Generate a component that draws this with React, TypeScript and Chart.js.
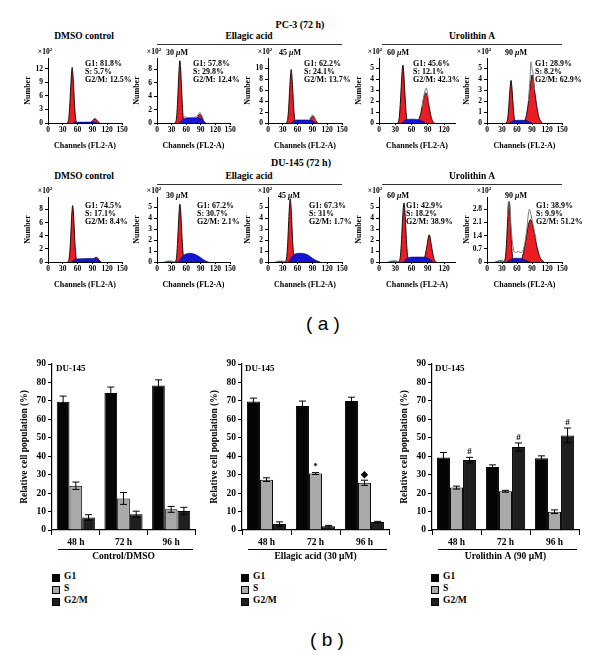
import React, { useEffect, useRef } from 'react';
import { Chart, registerables } from 'chart.js';
Chart.register(...registerables);

type Pt = [number, number];

// ---------- Histogram data: [channel FL2-A, count ×10²] ----------
// PC-3 (72 h)
const pc3DmsoG1: Pt[] = [[39, 0], [42, 1.0], [44, 3.7], [46, 8.0], [47.5, 10.8], [49, 12.3], [50.5, 10.8], [52, 8.0], [54, 3.7], [56, 1.0], [59, 0]];
const pc3DmsoS: Pt[] = [[50, 0], [55, 0.15], [70, 0.2], [85, 0.2], [95, 0.15], [100, 0]];
const pc3DmsoG2: Pt[] = [[85, 0], [89, 0.35], [92, 0.75], [95, 0.95], [98, 0.75], [101, 0.35], [105, 0]];

const pc3Ea30G1: Pt[] = [[37, 0], [40, 0.7], [42, 2.8], [44, 6.0], [45.5, 8.2], [47, 9.3], [48.5, 8.2], [50, 6.0], [52, 2.8], [54, 0.7], [57, 0]];
const pc3Ea30S: Pt[] = [[46, 0], [52, 0.5], [60, 0.75], [75, 0.8], [88, 0.7], [95, 0.4], [100, 0]];
const pc3Ea30G2: Pt[] = [[77, 0], [81, 0.3], [84, 0.9], [88, 1.3], [92, 0.9], [95, 0.3], [99, 0]];
const pc3Ea30Data: Pt[] = [[54, 1.0], [58, 0.9], [64, 0.8], [72, 0.85], [79, 0.9], [84, 1.2], [88, 1.6], [92, 1.1], [96, 0.5]];

const pc3Ea45G1: Pt[] = [[37, 0], [40, 0.8], [42, 2.9], [44, 6.4], [45.5, 8.6], [47, 9.8], [48.5, 8.6], [50, 6.4], [52, 2.9], [54, 0.8], [57, 0]];
const pc3Ea45S: Pt[] = [[47, 0], [52, 0.4], [60, 0.55], [80, 0.55], [90, 0.4], [96, 0]];
const pc3Ea45G2: Pt[] = [[81, 0], [85, 0.4], [88, 1], [91, 1.2], [94, 1], [97, 0.4], [101, 0]];
const pc3Ea45Data: Pt[] = [[84, 0.7], [88, 1.3], [91, 1.5], [94, 1.1], [97, 0.4]];

const pc3Ua60G1: Pt[] = [[34, 0], [37, 0.4], [39, 1.6], [41, 3.4], [42.5, 4.7], [44, 5.3], [45.5, 4.7], [47, 3.4], [49, 1.6], [51, 0.4], [54, 0]];
const pc3Ua60S: Pt[] = [[42, 0], [48, 0.25], [60, 0.35], [72, 0.3], [80, 0.15], [85, 0]];
const pc3Ua60G2: Pt[] = [[68, 0], [73, 0.3], [77, 0.9], [80, 1.7], [83, 2.4], [86, 2.75], [89, 2.4], [92, 1.6], [95, 0.8], [98, 0.25], [102, 0]];
const pc3Ua60Data: Pt[] = [[79, 1.4], [82, 2.3], [85, 3.0], [87, 3.2], [89, 2.8], [92, 1.8]];

const pc3Ua90G1: Pt[] = [[38, 0], [41, 0.3], [43, 1.2], [45, 2.5], [46.5, 3.4], [48, 3.9], [49.5, 3.4], [51, 2.5], [53, 1.2], [55, 0.3], [58, 0]];
const pc3Ua90S: Pt[] = [[45, 0], [52, 0.2], [65, 0.25], [80, 0.2], [88, 0]];
const pc3Ua90G2: Pt[] = [[72, 0], [77, 0.4], [81, 1.3], [84, 2.4], [87, 3.6], [90, 4.4], [93, 3.8], [96, 2.7], [100, 1.4], [104, 0.5], [110, 0]];
const pc3Ua90Data: Pt[] = [[83, 2.0], [86, 4.0], [88, 5.6], [90, 5.0], [92, 4.6], [95, 3.0]];

// DU-145 (72 h)
const duDmsoG1: Pt[] = [[40, 0], [43, 0.6], [45, 2.4], [47, 5.5], [48.5, 7.6], [50, 8.6], [51.5, 7.6], [53, 5.5], [55, 2.4], [57, 0.6], [60, 0]];
const duDmsoS: Pt[] = [[48, 0], [55, 0.4], [70, 0.5], [90, 0.55], [100, 0.4], [108, 0]];
const duDmsoG2: Pt[] = [[88, 0], [92, 0.4], [96, 0.7], [99, 0.7], [103, 0.35], [107, 0]];

const duEa30G1: Pt[] = [[37, 0], [40, 0.4], [42, 1.6], [44, 3.4], [45.5, 4.7], [47, 5.3], [48.5, 4.8], [50, 3.6], [52, 1.8], [54, 0.6], [58, 0]];
const duEa30S: Pt[] = [[44, 0], [50, 0.4], [58, 0.7], [67, 0.8], [78, 0.7], [90, 0.4], [100, 0.1], [106, 0]];
const duEa30Debris: Pt[] = [[14, 0], [20, 0.08], [28, 0.1], [36, 0]];

const duEa45G1: Pt[] = [[35, 0], [38, 0.5], [40, 1.8], [42, 3.8], [43.5, 5.1], [45, 5.8], [46.5, 5.2], [48, 3.9], [50, 1.9], [52, 0.6], [56, 0]];
const duEa45S: Pt[] = [[42, 0], [48, 0.45], [56, 0.75], [65, 0.8], [78, 0.7], [90, 0.35], [100, 0.1], [106, 0]];
const duEa45Debris: Pt[] = [[14, 0], [20, 0.08], [28, 0.1], [36, 0]];

const duUa60G1: Pt[] = [[36, 0], [39, 0.4], [41, 1.6], [43, 3.5], [44.5, 4.8], [46, 5.4], [47.5, 4.8], [49, 3.5], [51, 1.6], [53, 0.4], [56, 0]];
const duUa60S: Pt[] = [[45, 0], [52, 0.35], [65, 0.45], [80, 0.45], [92, 0.3], [100, 0]];
const duUa60G2: Pt[] = [[80, 0], [84, 0.4], [87, 1.1], [89, 1.7], [91, 2.3], [92.5, 2.5], [94, 2.3], [96, 1.7], [99, 0.8], [102, 0.2], [106, 0]];
const duUa60Debris: Pt[] = [[16, 0], [22, 0.1], [30, 0.12], [38, 0]];

const duUa90G1: Pt[] = [[34, 0], [37, 0.3], [39, 1.0], [41, 2.1], [42.5, 2.9], [44, 3.2], [45.5, 2.9], [47, 2.1], [49, 1.0], [51, 0.3], [54, 0]];
const duUa90S: Pt[] = [[40, 0], [48, 0.15], [60, 0.2], [72, 0.15], [85, 0]];
const duUa90G2: Pt[] = [[66, 0], [71, 0.3], [76, 0.9], [80, 1.6], [84, 2.1], [87, 2.25], [91, 2.0], [95, 1.5], [100, 0.8], [106, 0.25], [114, 0]];
const duUa90Data: Pt[] = [[41, 2.4], [43, 3.2], [45, 3.2], [48, 1.9], [52, 0.8], [57, 0.5], [62, 0.55], [68, 0.5], [74, 0.8], [79, 1.6], [83, 2.6], [85, 2.8], [88, 2.5], [92, 2.0], [98, 1.2]];
const duUa90Debris: Pt[] = [[16, 0], [22, 0.06], [30, 0.08], [36, 0]];

// ---------- Bar chart data ----------
const timeLabels = ['48 h', '72 h', '96 h'];
const phaseNames = ['G1', 'S', 'G2/M'];

const dmsoG1 = [69.5, 74.3, 78.4];
const dmsoG1Err = [3.1, 3.2, 3.0];
const dmsoS = [24.0, 17.1, 11.2];
const dmsoSErr = [2.0, 3.2, 1.6];
const dmsoG2M = [6.8, 8.6, 10.3];
const dmsoG2MErr = [1.5, 1.6, 2.0];

const eaG1 = [69.7, 67.2, 70.0];
const eaG1Err = [1.8, 2.7, 2.0];
const eaS = [27.3, 30.6, 25.6];
const eaSErr = [1.0, 0.5, 1.4];
const eaG2M = [3.2, 2.1, 4.3];
const eaG2MErr = [1.2, 0.4, 0.4];
const eaSMarks = ['', '*', '\u25C6'];

const uaG1 = [39.3, 34.2, 38.9];
const uaG1Err = [2.7, 1.1, 1.3];
const uaS = [23.0, 21.0, 9.9];
const uaSErr = [0.8, 0.5, 1.0];
const uaG2M = [37.9, 45.0, 51.3];
const uaG2MErr = [1.5, 2.2, 4.0];
const uaG2MMarks = ['#', '#', '#'];

// ---------- Styling ----------
const SERIF = '"Liberation Serif", "Times New Roman", serif';
const SANS = '"Liberation Sans", Arial, sans-serif';
const WEIGHT = 'bold';
const RED = '#ec1c24';
const BLUE = '#1414d2';
const TEAL = '#1a9c8c';
const C_G1 = '#050505';
const C_S = '#a9a9a9';
const C_G2M = '#1f1f1f';

const fmt = (v: number) => String(Math.round(Number(v) * 10) / 10);

// ---------- Histogram ----------
const Y_W = 25, PAD_T = 12, PAD_R = 10, X_H = 28, H_AREA = 65;

type HistProps = {
  left: number; top: number; width: number; xMax: number; yMax: number; yStep: number;
  g1: Pt[]; s: Pt[]; g2?: Pt[]; outline?: Pt[]; debris?: Pt[];
};

function Histogram(p: HistProps) {
  const ref = useRef<HTMLCanvasElement>(null);
  useEffect(() => {
    const toXY = (a: Pt[]) => a.map(([x, y]) => ({ x, y }));
    const ds: any[] = [];
    if (p.outline) ds.push({ data: toXY(p.outline), borderColor: '#7a7a7a', borderWidth: 1, fill: false });
    ds.push({ data: toXY(p.s), backgroundColor: BLUE, borderColor: '#00005a', borderWidth: 0.6, fill: 'origin' });
    if (p.debris) ds.push({ data: toXY(p.debris), backgroundColor: TEAL, borderColor: '#0a4a40', borderWidth: 0.5, fill: 'origin' });
    ds.push({ data: toXY(p.g1), backgroundColor: RED, borderColor: '#000', borderWidth: 0.9, fill: 'origin' });
    if (p.g2) ds.push({ data: toXY(p.g2), backgroundColor: RED, borderColor: '#000', borderWidth: 0.9, fill: 'origin' });
    const tickFont = { family: SERIF, size: 7.5, weight: WEIGHT };
    const titleFont = { family: SERIF, size: 8, weight: WEIGHT };
    const chart = new Chart(ref.current!, {
      type: 'line',
      data: { datasets: ds.map((d) => ({ pointRadius: 0, cubicInterpolationMode: 'monotone', ...d })) },
      options: {
        responsive: false,
        animation: false,
        layout: { padding: { top: PAD_T, right: PAD_R, left: 0, bottom: 0 } },
        plugins: { legend: { display: false }, tooltip: { enabled: false } },
        scales: {
          x: {
            type: 'linear', min: 0, max: p.xMax, bounds: 'data',
            ticks: { stepSize: 30, autoSkip: false, maxRotation: 0, minRotation: 0, includeBounds: false, font: tickFont, color: '#000', padding: 1 },
            afterBuildTicks: (s: any) => { s.ticks = s.ticks.filter((t: any) => t.value % 30 === 0); },
            grid: { drawOnChartArea: false, tickLength: 2, color: '#000' },
            border: { color: '#000', width: 1 },
            title: { display: true, text: 'Channels (FL2-A)', font: titleFont, color: '#000', padding: { top: 0, bottom: 0 } },
            afterFit: (s: any) => { s.height = X_H; },
          },
          y: {
            type: 'linear', min: 0, max: p.yMax, bounds: 'data',
            ticks: { stepSize: p.yStep, includeBounds: false, font: tickFont, color: '#000', padding: 2, callback: (v: any) => fmt(v) },
            grid: { drawOnChartArea: false, tickLength: 3, color: '#000' },
            border: { color: '#000', width: 1 },
            title: { display: true, text: 'Number', font: titleFont, color: '#000', padding: { top: 0, bottom: 0 } },
            afterFit: (s: any) => { s.width = Y_W; },
          },
        },
      } as any,
    });
    return () => chart.destroy();
  }, []);
  const w = Y_W + p.width + PAD_R;
  const h = PAD_T + H_AREA + X_H;
  return <canvas ref={ref} width={w} height={h} style={{ position: 'absolute', left: p.left - Y_W, top: p.top - PAD_T, width: w, height: h }} />;
}

// ---------- Bar chart ----------
const B_YW = 33, B_PT = 10, B_PR = 10, B_XH = 32, B_TOP = 364, B_H = 166;

const errorPlugin = {
  id: 'errbars',
  afterDatasetsDraw(chart: any) {
    const { ctx } = chart;
    const ys = chart.scales.y;
    chart.data.datasets.forEach((ds: any, i: number) => {
      const meta = chart.getDatasetMeta(i);
      meta.data.forEach((bar: any, j: number) => {
        const v = ds.data[j];
        const e = ds.errors[j];
        const yt = ys.getPixelForValue(v + e);
        const yb = ys.getPixelForValue(v - e);
        const x = bar.x;
        ctx.save();
        ctx.strokeStyle = '#000';
        ctx.lineWidth = 1;
        ctx.beginPath();
        ctx.moveTo(x, yt); ctx.lineTo(x, yb);
        ctx.moveTo(x - 3.5, yt); ctx.lineTo(x + 3.5, yt);
        ctx.moveTo(x - 3.5, yb); ctx.lineTo(x + 3.5, yb);
        ctx.stroke();
        if (ds.marks && ds.marks[j]) {
          ctx.fillStyle = '#000';
          ctx.font = `bold 9px ${SERIF}`;
          ctx.textAlign = 'center';
          ctx.textBaseline = 'bottom';
          ctx.fillText(ds.marks[j], x, yt - 1);
        }
        ctx.restore();
      });
    });
  },
};

const underlinePlugin = {
  id: 'underline',
  afterDraw(chart: any) {
    const { ctx, chartArea } = chart;
    const xs = chart.scales.x;
    const y = Math.round(xs.top + 19) + 0.5;
    ctx.save();
    ctx.strokeStyle = '#000';
    ctx.lineWidth = 1;
    ctx.beginPath();
    ctx.moveTo(chartArea.left + 6, y);
    ctx.lineTo(chartArea.right - 2, y);
    ctx.stroke();
    ctx.restore();
  },
};

type BarProps = {
  axisX: number; width: number; title: string;
  g1: number[]; g1Err: number[]; s: number[]; sErr: number[]; g2m: number[]; g2mErr: number[];
  sMarks?: string[]; g2mMarks?: string[];
};

function BarPanel(p: BarProps) {
  const ref = useRef<HTMLCanvasElement>(null);
  useEffect(() => {
    const font = { family: SERIF, size: 9.5, weight: WEIGHT };
    const common = { borderColor: '#000', borderWidth: 1, categoryPercentage: 0.8, barPercentage: 1.0 };
    const chart = new Chart(ref.current!, {
      type: 'bar',
      data: {
        labels: timeLabels,
        datasets: [
          { label: phaseNames[0], data: p.g1, errors: p.g1Err, backgroundColor: C_G1, ...common },
          { label: phaseNames[1], data: p.s, errors: p.sErr, marks: p.sMarks, backgroundColor: C_S, ...common },
          { label: phaseNames[2], data: p.g2m, errors: p.g2mErr, marks: p.g2mMarks, backgroundColor: C_G2M, ...common },
        ] as any,
      },
      options: {
        responsive: false,
        animation: false,
        layout: { padding: { top: B_PT, right: B_PR, left: 0, bottom: 0 } },
        plugins: { legend: { display: false }, tooltip: { enabled: false } },
        scales: {
          x: {
            type: 'category', offset: true,
            ticks: { font, color: '#000', padding: 2, maxRotation: 0 },
            grid: { drawOnChartArea: false, tickLength: 5, color: '#000', offset: true },
            border: { color: '#000', width: 1.2 },
            title: { display: true, text: p.title, font, color: '#000', padding: { top: 0, bottom: 0 } },
            afterFit: (s: any) => { s.height = B_XH; },
          },
          y: {
            min: 0, max: 90,
            ticks: { stepSize: 10, font, color: '#000', padding: 2 },
            grid: { drawOnChartArea: false, tickLength: 4, color: '#000' },
            border: { color: '#000', width: 1.2 },
            title: { display: true, text: 'Relative cell population (%)', font, color: '#000', padding: { top: 0, bottom: 0 } },
            afterFit: (s: any) => { s.width = B_YW; },
          },
        },
      } as any,
      plugins: [errorPlugin, underlinePlugin],
    });
    return () => chart.destroy();
  }, []);
  const w = B_YW + p.width + B_PR;
  const h = B_PT + B_H + B_XH;
  return <canvas ref={ref} width={w} height={h} style={{ position: 'absolute', left: p.axisX - B_YW, top: B_TOP - B_PT, width: w, height: h }} />;
}

// ---------- Text helpers ----------
function T(props: { x: number; y: number; size?: number; align?: 'left' | 'center' | 'right'; family?: string; weight?: string; children: any }) {
  const { x, y, size = 8, align = 'left', family = SERIF, weight = WEIGHT, children } = props;
  const tr = align === 'center' ? 'translate(-50%,-50%)' : align === 'right' ? 'translate(-100%,-50%)' : 'translateY(-50%)';
  return (
    <div style={{ position: 'absolute', left: x, top: y, transform: tr, fontSize: size, fontFamily: family, fontWeight: weight as any, whiteSpace: 'nowrap', lineHeight: 1, color: '#000' }}>
      {children}
    </div>
  );
}

function HLine(props: { x1: number; x2: number; y: number }) {
  return <div style={{ position: 'absolute', left: props.x1, top: props.y, width: props.x2 - props.x1, height: 1.3, background: '#333' }} />;
}

function Stats(props: { x: number; y: number; lines: string[] }) {
  return (
    <>
      {props.lines.map((l, i) => (
        <T key={i} x={props.x} y={props.y + i * 8} size={8}>{l}</T>
      ))}
    </>
  );
}

function Conc(props: { x: number; y: number; v: string }) {
  return <T x={props.x} y={props.y} size={8}>{props.v} <i>μ</i>M</T>;
}

function X10(props: { x: number; y: number }) {
  return <T x={props.x} y={props.y} size={7.5} align="center">×10<sup style={{ fontSize: 5, verticalAlign: 'top', position: 'relative', top: -1 }}>2</sup></T>;
}

function Legend(props: { x: number }) {
  const colors = [C_G1, C_S, C_G2M];
  const ys = [577, 589, 601];
  return (
    <>
      {phaseNames.map((n, i) => (
        <React.Fragment key={n}>
          <div style={{ position: 'absolute', left: props.x, top: ys[i] - 3.5, width: 6, height: 6, background: colors[i], border: '0.8px solid #000' }} />
          <T x={props.x + 12} y={ys[i]} size={9.5}>{n}</T>
        </React.Fragment>
      ))}
    </>
  );
}

export default function App() {
  const TOP1 = 58, TOP2 = 197;
  return (
    <div style={{ position: 'absolute', left: 0, top: 0, width: 600, height: 655, background: '#fff', overflow: 'hidden' }}>
      {/* Panel (a) headers */}
      <T x={300} y={25} size={10} align="center">PC-3 (72 h)</T>
      <T x={84} y={37} size={9.5} align="center">DMSO control</T>
      <T x={249} y={37} size={9.5} align="center">Ellagic acid</T>
      <HLine x1={157} x2={342} y={44} />
      <T x={472} y={37} size={9.5} align="center">Urolithin A</T>
      <HLine x1={382} x2={562} y={44} />

      <Histogram left={48} top={TOP1} width={74} xMax={150} yMax={14.4} yStep={3} g1={pc3DmsoG1} s={pc3DmsoS} g2={pc3DmsoG2} />
      <Histogram left={157} top={TOP1} width={73} xMax={150} yMax={9.7} yStep={2} g1={pc3Ea30G1} s={pc3Ea30S} g2={pc3Ea30G2} outline={pc3Ea30Data} />
      <Histogram left={268} top={TOP1} width={74} xMax={150} yMax={11.9} yStep={2} g1={pc3Ea45G1} s={pc3Ea45S} g2={pc3Ea45G2} outline={pc3Ea45Data} />
      <Histogram left={379} top={TOP1} width={76} xMax={140} yMax={5.95} yStep={1} g1={pc3Ua60G1} s={pc3Ua60S} g2={pc3Ua60G2} outline={pc3Ua60Data} />
      <Histogram left={487} top={TOP1} width={75} xMax={150} yMax={5.95} yStep={1} g1={pc3Ua90G1} s={pc3Ua90S} g2={pc3Ua90G2} outline={pc3Ua90Data} />

      <X10 x={45} y={52} />
      <X10 x={154} y={52} />
      <X10 x={265} y={52} />
      <X10 x={375} y={52} />
      <X10 x={484} y={52} />

      <Stats x={85} y={64} lines={['G1: 81.8%', 'S: 5.7%', 'G2/M: 12.5%']} />
      <Conc x={166} y={53} v="30" />
      <Stats x={193} y={64} lines={['G1: 57.8%', 'S: 29.8%', 'G2/M: 12.4%']} />
      <Conc x={279} y={53} v="45" />
      <Stats x={304} y={64} lines={['G1: 62.2%', 'S: 24.1%', 'G2/M: 13.7%']} />
      <Conc x={387} y={53} v="60" />
      <Stats x={413} y={64} lines={['G1: 45.6%', 'S: 12.1%', 'G2/M: 42.3%']} />
      <Conc x={505} y={53} v="90" />
      <Stats x={535} y={64} lines={['G1: 28.9%', 'S: 8.2%', 'G2/M: 62.9%']} />

      <T x={301} y={163} size={10} align="center">DU-145 (72 h)</T>
      <T x={84} y={177} size={9.5} align="center">DMSO control</T>
      <T x={249} y={177} size={9.5} align="center">Ellagic acid</T>
      <HLine x1={157} x2={342} y={184} />
      <T x={472} y={177} size={9.5} align="center">Urolithin A</T>
      <HLine x1={382} x2={562} y={184} />

      <Histogram left={48} top={TOP2} width={74} xMax={150} yMax={9.9} yStep={2} g1={duDmsoG1} s={duDmsoS} g2={duDmsoG2} />
      <Histogram left={157} top={TOP2} width={73} xMax={150} yMax={5.95} yStep={1} g1={duEa30G1} s={duEa30S} debris={duEa30Debris} />
      <Histogram left={268} top={TOP2} width={74} xMax={150} yMax={5.95} yStep={1} g1={duEa45G1} s={duEa45S} debris={duEa45Debris} />
      <Histogram left={379} top={TOP2} width={76} xMax={140} yMax={5.95} yStep={1} g1={duUa60G1} s={duUa60S} g2={duUa60G2} debris={duUa60Debris} />
      <Histogram left={487} top={TOP2} width={75} xMax={150} yMax={3.45} yStep={0.7} g1={duUa90G1} s={duUa90S} g2={duUa90G2} outline={duUa90Data} debris={duUa90Debris} />

      <X10 x={45} y={191} />
      <X10 x={154} y={191} />
      <X10 x={265} y={191} />
      <X10 x={375} y={191} />
      <X10 x={484} y={191} />

      <Stats x={85} y={206} lines={['G1: 74.5%', 'S: 17.1%', 'G2/M: 8.4%']} />
      <Conc x={166} y={196} v="30" />
      <Stats x={197} y={206} lines={['G1: 67.2%', 'S: 30.7%', 'G2/M: 2.1%']} />
      <Conc x={278} y={196} v="45" />
      <Stats x={309} y={206} lines={['G1: 67.3%', 'S: 31%', 'G2/M: 1.7%']} />
      <Conc x={387} y={196} v="60" />
      <Stats x={406} y={206} lines={['G1: 42.9%', 'S: 18.2%', 'G2/M: 38.9%']} />
      <Conc x={505} y={196} v="90" />
      <Stats x={536} y={206} lines={['G1: 38.9%', 'S: 9.9%', 'G2/M: 51.2%']} />

      <T x={323} y={323} size={19} align="center" family={SANS} weight="normal">( a )</T>

      {/* Panel (b) */}
      <BarPanel axisX={52} width={143} title="Control/DMSO" g1={dmsoG1} g1Err={dmsoG1Err} s={dmsoS} sErr={dmsoSErr} g2m={dmsoG2M} g2mErr={dmsoG2MErr} />
      <BarPanel axisX={242} width={147} title="Ellagic acid (30 μM)" g1={eaG1} g1Err={eaG1Err} s={eaS} sErr={eaSErr} g2m={eaG2M} g2mErr={eaG2MErr} sMarks={eaSMarks} />
      <BarPanel axisX={432} width={147} title="Urolithin A (90 μM)" g1={uaG1} g1Err={uaG1Err} s={uaS} sErr={uaSErr} g2m={uaG2M} g2mErr={uaG2MErr} g2mMarks={uaG2MMarks} />

      <T x={56} y={368} size={9}>DU-145</T>
      <T x={245} y={368} size={9}>DU-145</T>
      <T x={435} y={368} size={9}>DU-145</T>

      <Legend x={52} />
      <Legend x={241} />
      <Legend x={431} />

      <T x={327} y={639} size={19} align="center" family={SANS} weight="normal">( b )</T>
    </div>
  );
}
